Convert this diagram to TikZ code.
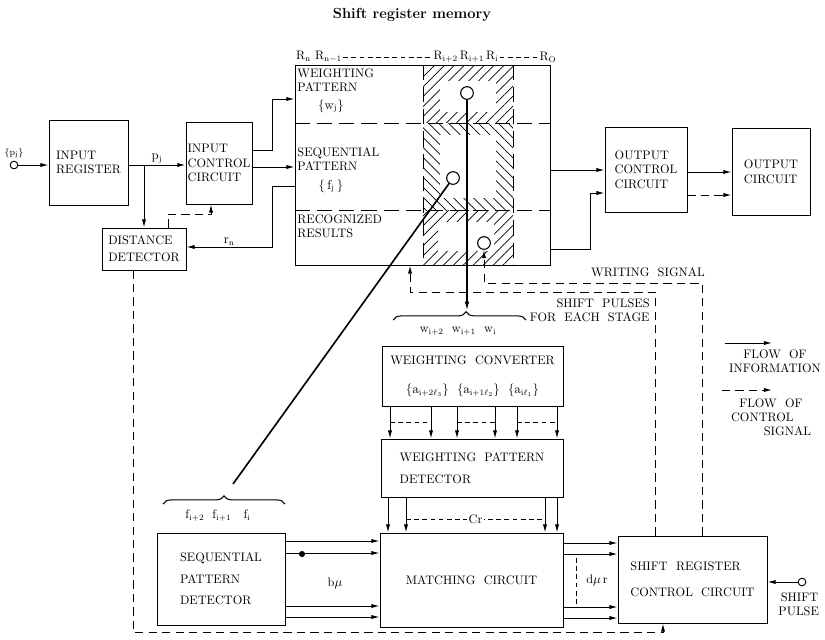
\documentclass[tikz,border=0pt]{standalone}
\usepackage{tikz}
\usetikzlibrary{arrows.meta,positioning,patterns.meta,decorations.pathreplacing}
\newcommand{\srmfont}{\fontsize{10.5}{12.5}\selectfont}
\newcommand{\srmsmall}{\fontsize{10.5}{12}\selectfont}
\tikzset{
  srmbox/.style   = {rectangle, draw=black, line width=0.85pt, align=left,
                     font=\srmfont, inner sep=1pt},
  srmlbl/.style   = {font=\srmsmall, align=left, inner sep=1pt},
  srmflow/.style  = {-{Latex[length=7pt,width=3.6pt]}, line width=0.8pt},
  srmctrl/.style  = {srmflow, dash pattern=on 7pt off 4.5pt},
  srmdash/.style  = {line width=0.7pt, dash pattern=on 13pt off 6pt},
  srmthin/.style  = {line width=0.7pt, dash pattern=on 4pt off 3pt},
  srmterm/.style  = {circle, draw, line width=0.8pt, fill=white, minimum size=2.3mm, inner sep=0pt},
  srmtap/.style   = {circle, draw, line width=0.9pt, fill=white, minimum size=3.8mm, inner sep=0pt},
  srmpick/.style  = {line width=1.4pt},
  srmhatch/.style = {pattern={Lines[angle=#1,distance=6pt,line width=0.6pt]}},
}

\begin{document}
\begin{tikzpicture}[x=0.03cm, y=-0.03cm]
  \useasboundingbox (0,0) rectangle (825,639);
  \node[font=\bfseries\fontsize{12.5}{15}\selectfont] (title) at (412,15) {Shift register memory};

  \node[srmterm] (pin) at (14,165) {};
  \node[srmlbl, font=\fontsize{8}{9}\selectfont] (pinl) at (14,153) {$\{\mathrm{p_j}\}$};
  \node[srmbox, minimum width=2.37cm, minimum height=2.55cm] (ir)  at (88.5,162.5) {INPUT\\REGISTER};
  \node[srmbox, minimum width=1.98cm, minimum height=2.46cm] (icc) at (219,163)    {INPUT\\CONTROL\\CIRCUIT};
  \node[srmbox, minimum width=2.52cm, minimum height=1.26cm] (dd)  at (144,249)    {DISTANCE\\[2pt]DETECTOR};

  % the register array with its three rows
  \node[draw, line width=0.85pt, minimum width=7.65cm, minimum height=6cm, inner sep=0pt] (mem) at (422.5,165) {};
  \fill[srmhatch=45] (423,65) rectangle (513,265);
  \fill[white] (423,123) rectangle (513,210);
  \fill[srmhatch=-45] (423,123) rectangle (513,210);
  \fill[white] (440,81) rectangle (496,112);
  \fill[white] (440,135) rectangle (496,198);
  \fill[white] (438,222) rectangle (494,251);
  \draw[srmdash] (mem.west |- 0,123) -- (mem.east |- 0,123);
  \draw[srmdash] (mem.west |- 0,210) -- (mem.east |- 0,210);
  \draw[srmdash] (mem.north -| 423,0) -- (mem.south -| 423,0);
  \draw[srmdash] (mem.north -| 513,0) -- (mem.south -| 513,0);

  \node[srmlbl, anchor=north west] (wpat) at (296,67)  {WEIGHTING\\PATTERN};
  \node[srmlbl]                    (wset) at (331,106) {$\{\mathrm{w_j}\}$};
  \node[srmlbl, anchor=north west] (fpat) at (296,146) {SEQUENTIAL\\PATTERN};
  \node[srmlbl]                    (fset) at (331,186) {$\{\,\mathrm{f_j}\,\}$};
  \node[srmlbl, anchor=north west] (rres) at (296,213) {RECOGNIZED\\RESULTS};

  \node[srmlbl] (rn) at (319,57) {R$_\mathrm{n}$\ R$_\mathrm{n-1}$};
  \node[srmlbl] (ri) at (466,57) {R$_\mathrm{i+2}$\,R$_\mathrm{i+1}$\,R$_\mathrm{i}$};
  \node[srmlbl] (ro) at (548,57) {R$_\mathrm{O}$};
  \draw[srmthin] (rn) -- (ri);
  \draw[srmthin] (ri) -- (ro);

  \node[srmtap] (cw) at (467,93)  {};
  \node[srmtap] (cf) at (453,178) {};
  \node[srmtap] (cr) at (484,243) {};

  \node[srmbox, minimum width=2.46cm, minimum height=2.55cm] (occ) at (646,169.5) {OUTPUT\\CONTROL\\CIRCUIT};
  \node[srmbox, minimum width=2.34cm, minimum height=2.61cm] (oc)  at (771,171.5) {OUTPUT\\CIRCUIT};

  \node[srmbox, align=center, minimum width=5.43cm, minimum height=1.8cm] (wc) at (472.5,376)
        {WEIGHTING\ \ CONVERTER\\[12pt]$\{\mathrm{a_{i+2\ell_3}}\}$\ \ $\{\mathrm{a_{i+1\ell_2}}\}$\ \ $\{\mathrm{a_{i\ell_1}}\}$};
  \node[srmbox, minimum width=5.46cm, minimum height=1.74cm] (wpd)  at (472,468)     {WEIGHTING\ \ PATTERN\\[6pt]DETECTOR};
  \node[srmbox, minimum width=5.49cm, minimum height=2.82cm] (mc)   at (471.5,580)   {MATCHING\ \ CIRCUIT};
  \node[srmbox, minimum width=3.84cm, minimum height=2.76cm] (spd)  at (221,579)     {SEQUENTIAL\\[6pt]PATTERN\\[6pt]DETECTOR};
  \node[srmbox, minimum width=4.47cm, minimum height=2.61cm] (srcc) at (692.5,579.5) {SHIFT\ \ REGISTER\\[10pt]CONTROL\ \ CIRCUIT};
  \node[srmterm] (spin) at (802,582) {};
  \node[srmlbl, anchor=north west] (spl) at (777,591) {\hspace*{2pt}SHIFT\\PULSE};

  \draw[srmflow] (pin) -- (ir.west |- pin);
  \draw[srmflow] (ir.east |- 0,165) -- node[srmlbl, above]{$\mathrm{p_j}$} (icc.west |- 0,165);
  \draw[srmflow] (dd.north |- 0,165) -- (dd.north);
  \draw[srmctrl] (dd.north -| 168,0) |- (211,214) -- (icc.south -| 211,0);

  \draw[srmflow] (icc.east |- 0,150) -- (272,150) |- (mem.west |- 0,99);
  \draw[srmflow] (icc.east |- 0,167) -- (mem.west |- 0,167);
  \draw[srmflow] (mem.west |- 0,186) -| (272,247) -- node[srmlbl, above]{$\mathrm{r_n}$} (dd.east |- 0,247);

  \draw[srmflow] (mem.east |- 0,170) -- (occ.west |- 0,170);
  \draw[srmflow] (mem.east |- 0,249) -| (590,193) -- (occ.west |- 0,193);
  \draw[srmflow] (occ.east |- 0,172) -- (oc.west |- 0,172);
  \draw[srmctrl] (occ.east |- 0,195) -- (oc.west |- 0,195);

  % read-out taps of stage i
  \coordinate (wtip) at (467,311);
  \draw[srmpick, -{Latex[length=8pt,width=4pt]}] (cw) -- (wtip);
  \draw[line width=0.9pt, decorate, decoration={brace, amplitude=7pt, aspect=0.55}] (393,320) -- (526,320);
  \node[srmlbl] (wlbl) at (458,331) {w$_\mathrm{i+2}$\ \ w$_\mathrm{i+1}$\ \ w$_\mathrm{i}$};
  \coordinate (ftip) at (233,484);
  \draw[srmpick] (cf) -- (ftip);
  \draw[line width=0.9pt, decorate, decoration={brace, amplitude=7pt}] (163,504) -- (285,504);
  \node[srmlbl] (flbl) at (218,516) {f$_\mathrm{i+2}$\ \ f$_\mathrm{i+1}$\ \ \ f$_\mathrm{i}$};

  \draw[srmctrl] (srcc.north -| 702,0) |- (484,283) -- (cr);
  \node[srmlbl] (wsig) at (648,272) {WRITING\ \ SIGNAL};
  \draw[srmctrl] (srcc.north -| 655,0) |- (410,292) -- (mem.south -| 410,0);
  \node[srmlbl, anchor=east, align=right] (spls) at (651,310) {SHIFT\ \ PULSES\\FOR\ \ EACH\ \ STAGE};

  \draw[srmflow] (wc.south -| 390,0) -- (wpd.north -| 390,0);
  \draw[srmflow] (wc.south -| 431,0) -- (wpd.north -| 431,0);
  \draw[srmflow] (wc.south -| 457,0) -- (wpd.north -| 457,0);
  \draw[srmflow] (wc.south -| 495,0) -- (wpd.north -| 495,0);
  \draw[srmflow] (wc.south -| 517,0) -- (wpd.north -| 517,0);
  \draw[srmflow] (wc.south -| 557,0) -- (wpd.north -| 557,0);
  \draw[srmthin] (390,422) -- (431,422);
  \draw[srmthin] (457,422) -- (495,422);
  \draw[srmthin] (517,422) -- (557,422);

  \draw[srmflow] (wpd.south -| 388,0) -- (mc.north -| 388,0);
  \draw[srmflow] (wpd.south -| 406,0) -- (mc.north -| 406,0);
  \draw[srmflow] (wpd.south -| 545,0) -- (mc.north -| 545,0);
  \draw[srmflow] (wpd.south -| 557,0) -- (mc.north -| 557,0);
  \draw[srmthin] (406,519) -- node[srmlbl, fill=white]{Cr} (545,519);

  \draw[srmflow] (spd.east |- 0,541) -- (mc.west |- 0,541);
  \draw[srmflow] (spd.east |- 0,553) -- (mc.west |- 0,553);
  \draw[srmflow] (spd.east |- 0,606) -- (mc.west |- 0,606);
  \draw[srmflow] (spd.east |- 0,617) -- (mc.west |- 0,617);
  \fill (302,554) circle (2.6pt);
  \node[srmlbl] (bmu) at (335,583) {b$\mu$};

  \draw[srmflow] (mc.east |- 0,543) -- (srcc.west |- 0,543);
  \draw[srmflow] (mc.east |- 0,554) -- (srcc.west |- 0,554);
  \draw[srmflow] (mc.east |- 0,607) -- (srcc.west |- 0,607);
  \draw[srmflow] (mc.east |- 0,618) -- (srcc.west |- 0,618);
  \draw[srmthin] (576,558) -- (576,604);
  \node[srmlbl] (dmur) at (597,580) {d$\mu$\,r};

  \draw[srmflow] (spin) -- (srcc.east |- spin);
  \draw[srmctrl] (dd.south -| 133,0) |- (663,632) -- (srcc.south -| 663,0);

  % legend
  \coordinate (lsa) at (725,343);
  \coordinate (lsb) at (772,343);
  \draw[srmflow] (lsa) -- (lsb);
  \node[srmlbl, align=center] (linfo) at (775,361) {FLOW\ \ OF\\INFORMATION};
  \coordinate (lca) at (722,390);
  \coordinate (lcb) at (772,390);
  \draw[srmctrl] (lca) -- (lcb);
  \node[srmlbl] (lctl) at (771,417) {\hspace*{7pt}FLOW\ \ OF\\CONTROL\\\hspace*{28pt}SIGNAL};
\end{tikzpicture}
\end{document}
